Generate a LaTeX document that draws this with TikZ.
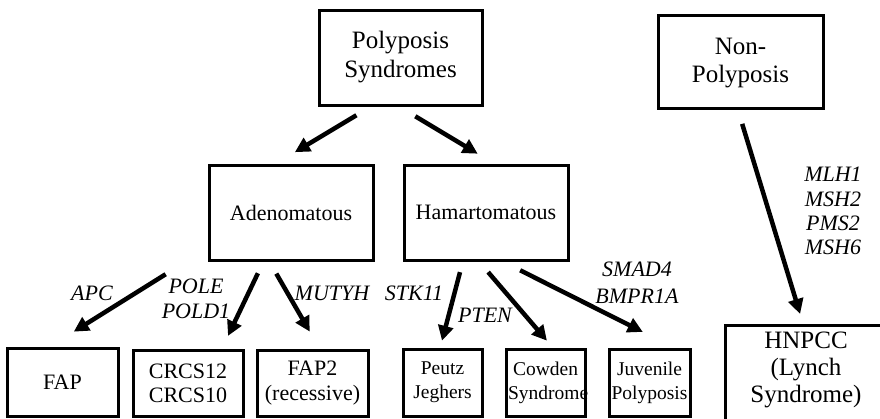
\documentclass[tikz,border=0pt]{standalone}
\usepackage{fontspec}
\setmainfont{Liberation Serif}
\usetikzlibrary{arrows.meta,positioning,calc}

\tikzset{
  box/.style={draw,line width=3pt,align=center,inner sep=2pt},
  smallbox/.style={box,text width=75pt,minimum height=67pt,font=\fontsize{19.5}{24}\selectfont},
  gene/.style={font=\fontsize{22}{25}\selectfont\itshape,align=center,inner sep=0pt},
  arr/.style={-{Triangle[length=15pt,width=15pt]},line width=4.5pt},
}

\begin{document}
\begin{tikzpicture}[x=1pt,y=-1pt]
\useasboundingbox (0,0) rectangle (880,418);
% top level
\node[box,minimum width=163pt,minimum height=95pt,font=\fontsize{25}{29}\selectfont] (polyp) at (400.5,57.5) {Polyposis\\Syndromes};
\node[box,minimum width=165pt,minimum height=93pt,text depth=2pt,font=\fontsize{25}{28}\selectfont] (nonpoly) at (740.5,61.5) {Non-\\Polyposis};
% middle level
\node[box,minimum width=164pt,minimum height=95pt,font=\fontsize{22}{26}\selectfont] (adeno) at (291,212.5) {Adenomatous};
\node[box,minimum width=164pt,minimum height=95pt,font=\fontsize{22}{26}\selectfont] (hamar) at (486,212.5) {Hamartomatous};
% bottom level
\node[box,minimum width=111pt,minimum height=68pt,font=\fontsize{22}{25}\selectfont] (fap) at (62.5,382) {FAP};
\node[box,minimum width=110pt,minimum height=66pt,font=\fontsize{22}{24}\selectfont] (crcs) at (188,383) {CRCS12\\CRCS10};
\node[box,minimum width=111pt,minimum height=66pt,font=\fontsize{22}{25}\selectfont] (fap2) at (312.5,383) {FAP2\\(recessive)};
\node[smallbox] (peutz) at (442.5,382.5) {Peutz\\Jeghers};
\node[smallbox] (cowden) at (545.5,382.5) {Cowden\\Syndrome};
\node[smallbox,text width=77pt] (juven) at (649.5,382.5) {Juvenile\\Polyposis};
\node[box,minimum width=162pt,minimum height=98pt,text depth=13pt,font=\fontsize{25}{27}\selectfont] (hnpcc) at (806,374) {HNPCC\\(Lynch\\Syndrome)};
% genes
\node[gene] (apc) at (92,293) {APC};
\node[gene] (pole) at (196,299) {POLE\\POLD1};
\node[gene] (mutyh) at (332,293) {MUTYH};
\node[gene] (stk) at (414,293) {STK11};
\node[gene] (pten) at (485,315) {PTEN};
\node[gene,font=\fontsize{22}{27}\selectfont\itshape] (smad) at (637,283) {SMAD4\\BMPR1A};
\node[gene,font=\fontsize{22}{24.3}\selectfont\itshape] (mmr) at (833,211) {MLH1\\MSH2\\PMS2\\MSH6};
% arrows
\draw[arr,shorten <=17pt,shorten >=22pt] ([xshift=-29.5pt]polyp.south) -- ([xshift=-15pt]adeno.north);
\draw[arr,shorten <=19pt,shorten >=19pt] ([xshift=-1.5pt]polyp.south) -- ([xshift=8pt]hamar.north);
\draw[arr,shorten <=15pt,shorten >=10pt] ([xshift=-2.7pt]nonpoly.south) -- ([xshift=-3pt]hnpcc.north);
\draw[arr,shorten <=24pt,shorten >=28pt] ([xshift=-105pt]adeno.south) -- ([xshift=-12.5pt]fap.north);
\draw[arr,shorten <=13pt,shorten >=14pt] ([xshift=-27.5pt]adeno.south) -- ([xshift=34pt]crcs.north);
\draw[arr,shorten <=14pt,shorten >=19.5pt] ([xshift=-21.7pt]adeno.south) -- ([xshift=7pt]fap2.north);
\draw[arr,shorten <=11pt,shorten >=7pt] ([xshift=-23.2pt]hamar.south) -- ([xshift=-2.3pt]peutz.north);
\draw[arr,shorten <=14pt,shorten >=9pt] ([xshift=-7pt]hamar.south) -- ([xshift=7.3pt]cowden.north);
\draw[arr,shorten <=19.5pt,shorten >=34.7pt] ([xshift=16.7pt]hamar.south) -- ([xshift=24.3pt]juven.north);
\end{tikzpicture}
\end{document}
